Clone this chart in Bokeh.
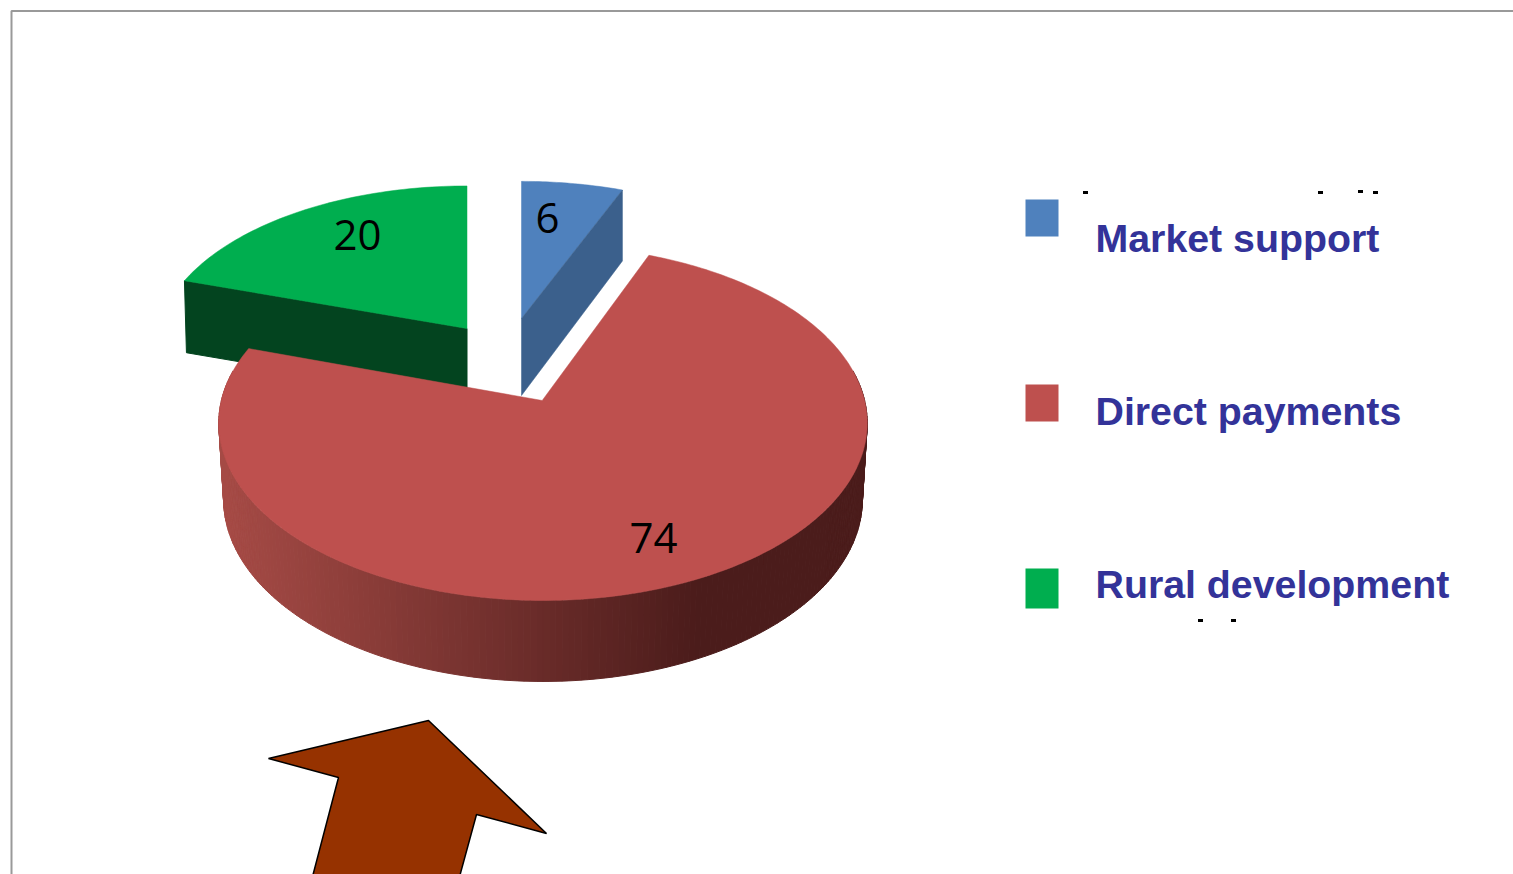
import numpy as np
from bokeh.plotting import figure
from bokeh.embed import file_html
from bokeh.resources import INLINE
from bokeh.core.properties import value

# ---- data
categories = ["Market support", "Direct payments", "Rural development"]
values = [6, 74, 20]
labels = ["6", "74", "20"]

# ---- styles
top_colors = ["#4F81BD", "#BE504E", "#00AE4F"]
wall_colors = ["#3B608C", None, "#03441F"]
text_color = "#333399"
arrow_color = "#963200"

p = figure(width=1513, height=874, x_range=(0, 1513), y_range=(874, 0),
           output_backend="svg", toolbar_location=None,
           min_border=0, outline_line_color=None, background_fill_color="white")
p.axis.visible = False
p.grid.visible = False

# perspective pie model
CX, CY = 542.5, 400.0
RX, RY, K = 321.6, 174.6, 0.1268
START_DEG = 21.6  # where direct payments begins, clockwise from 12 o'clock


def rim(deg, dx=0.0, dy=0.0, h=0.0, wx=1.0, wy=1.0):
    t = np.radians(deg)
    u, v = np.sin(t), np.cos(t)
    d = 1 + K * v
    return (CX + dx + wx * RX * u / d,
            CY + dy + h - wy * RY * v / d)


total = sum(values)
sweep = {c: 360.0 * val / total for c, val in zip(categories, values)}
a_red0 = START_DEG
a_red1 = a_red0 + sweep["Direct payments"]
a_green1 = a_red1 + sweep["Rural development"]
a_blue1 = a_green1 + sweep["Market support"]

# green slice
g_dx, g_dy, g_wx, g_wy, g_h = -76, -72, 0.96, 0.92, 72
gx, gy = rim(np.linspace(a_red1, a_green1, 60), g_dx, g_dy, wx=g_wx, wy=g_wy)
ax, ay = CX + g_dx, CY + g_dy
lx, ly = rim(a_red1, g_dx, g_dy, wx=g_wx, wy=g_wy)
p.patch([ax, lx, lx + 2, ax], [ay, ly, ly + g_h, ay + g_h],
        fill_color=wall_colors[2], line_color=wall_colors[2])
p.patch([ax, *gx], [ay, *gy], fill_color=top_colors[2], line_color=top_colors[2], line_width=0.5)

# blue slice
b_dx, b_dy, b_wx, b_wy, b_h = -21.5, -82, 0.953, 0.885, 74
bx, by = rim(np.linspace(a_green1, a_blue1, 30), b_dx, b_dy, wx=b_wx, wy=b_wy)
ax, ay = CX + b_dx, CY + b_dy
rx_, ry_ = rim(a_blue1, b_dx, b_dy, wx=b_wx, wy=b_wy)
p.patch([ax, *bx], [ay, *by], fill_color=top_colors[0], line_color=top_colors[0], line_width=0.5)
p.patch([ax, rx_, rx_, ax], [ay, ry_, ry_ + b_h - 3, ay + b_h + 3],
        fill_color=wall_colors[0], line_color=wall_colors[0], line_width=0.5)

# red wall, shaded strip by strip
W_H, W_X, W_Y = 76, 0.985, 1.025
t_edges = np.linspace(80, 280, 201)
left_c = np.array([0xA6, 0x4B, 0x46])
dark_c = np.array([0x4B, 0x1C, 0x1B])
xs, ys, cols = [], [], []
for a0, a1 in zip(t_edges[:-1], t_edges[1:]):
    x0, y0 = rim(a0)
    x1, y1 = rim(a1)
    x2, y2 = rim(a1, h=W_H, wx=W_X, wy=W_Y)
    x3, y3 = rim(a0, h=W_H, wx=W_X, wy=W_Y)
    xs.append([x0, x1, x2, x3])
    ys.append([y0, y1, y2, y3])
    f = np.clip((0.5 * (x0 + x1) - 225) / (700 - 225), 0, 1)
    c = (left_c + (dark_c - left_c) * f).astype(int)
    cols.append("#%02x%02x%02x" % tuple(c))
p.patches(xs, ys, fill_color=cols, line_color=cols, line_width=1)

# red top
rxs, rys = rim(np.linspace(a_red0, a_red1, 300))
p.patch([CX - 0.8, *rxs], [CY, *rys], fill_color=top_colors[1], line_color=top_colors[1], line_width=0.5)

# value labels
label_x = [547, 653, 357]
label_y = [217, 537, 234]
p.text(label_x, label_y, text=labels, text_font=value("Open Sans"),
       text_font_size="42px", text_color="black", text_align="center", text_baseline="middle")

# legend
sw_left, sw_right = 1025, 1058
sw_top = [199, 384, 568]
sw_bot = [236, 421, 608]
p.quad(left=[sw_left] * 3, right=[sw_right] * 3, top=sw_top, bottom=sw_bot,
       fill_color=top_colors, line_color=None)
legend_x = [1095] * 3
legend_y = [237, 410, 583]
p.text(legend_x, legend_y, text=categories, text_font=value("Liberation Sans"),
       text_font_style="bold", text_font_size="39.3px", text_color=text_color,
       text_align="left", text_baseline="middle")

# leftover specks around the legend
speck_x = [1085, 1320, 1360, 1375, 1200, 1233]
speck_y = [192, 192, 191, 192, 620, 620]
p.rect(speck_x, speck_y, width=5, height=3, fill_color="black", line_color=None)

# arrow
arrow_x = [268, 428, 546, 476, 458, 311, 338]
arrow_y = [758, 720, 833, 814, 880, 880, 777]
p.patch(arrow_x, arrow_y, fill_color=arrow_color, line_color="black", line_width=1.5)

# frame
p.line([11, 11, 1513], [874, 10.5, 10.5], line_color="#999999", line_width=2)

open("out.html", "w").write(file_html(p, INLINE))
